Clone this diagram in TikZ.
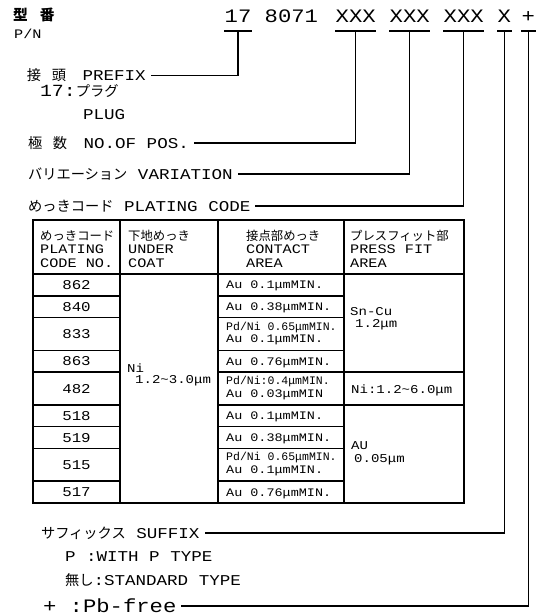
\documentclass[tikz,border=0pt]{standalone}
\usepackage{fontspec}
\setmainfont{Liberation Mono}[FakeStretch=1.17]
\newfontfamily\cadn{Liberation Mono}
\newfontfamily\jp{Noto Sans CJK JP}[Scale=0.95]
\usetikzlibrary{calc,positioning}
\newcommand{\szbig}{\fontsize{19}{19}\selectfont}
\newcommand{\szlbl}{\fontsize{15}{15}\selectfont}
\newcommand{\szhead}{\fontsize{13}{13.3}\selectfont}
\newcommand{\szcode}{\fontsize{13.5}{13.5}\selectfont}
\newcommand{\szcell}{\fontsize{11.5}{12.5}\selectfont}
\newcommand{\szpf}{\fontsize{12}{11.5}\selectfont}
\newcommand{\tld}{\textasciitilde}

\begin{document}
\begin{tikzpicture}[x=1pt,y=-1pt,
    code/.style={anchor=base west,inner xsep=0.5pt,inner ysep=0pt,text depth=0pt,outer ysep=8pt,font=\szbig},
    lbl/.style={anchor=west,inner sep=0pt,outer xsep=5pt,text height=10pt,text depth=0pt,font=\szlbl},
    head/.style={anchor=base west,inner sep=0pt,align=left,font=\szhead},
    celltxt/.style={anchor=base west,inner sep=0pt,align=left,font=\szcell},
    lead/.style={line width=1.1pt},
    cell/.style={line width=1.4pt}]
  \useasboundingbox (0,0) rectangle (535,615);

  % part number
  \node[anchor=west,inner sep=0pt,font=\fontsize{15.5}{15.5}\selectfont] (pn) at (13,15) {{\jp\bfseries 型}\hspace{12pt}{\jp\bfseries 番}};
  \node[anchor=west,inner sep=0pt,font=\fontsize{13}{13}\selectfont] (pnen) at (14,34) {P/N};
  \node[code] (c17) at (224,23) {17};
  \node[code] (c8071) at (264,23) {8071};
  \node[code] (cpos) at (335,23) {XXX};
  \node[code] (cvar) at (389,23) {XXX};
  \node[code] (cplt) at (443,23) {XXX};
  \node[code] (csfx) at (497,23) {X};
  \node[code] (cpb) at (521,23) {+};
  \foreach \n in {c17,cpos,cvar,cplt,csfx,cpb}
    \draw[lead] (\n.south west) -- (\n.south east);

  % labels
  \node[lbl] (prefix) at (22,75.5) {{\jp 接} {\jp 頭}\hspace{6pt} PREFIX};
  \node[lbl] (plug) at (35,92) {{\fontsize{17}{17}\selectfont 17:}{\jp プラグ}};
  \node[lbl] (plugen) at (78,114) {PLUG};
  \node[lbl] (pos) at (23,143) {{\jp 極} {\jp 数}\hspace{6pt} NO.OF POS.};
  \node[lbl] (var) at (23,174) {{\jp バリエーション} VARIATION};
  \node[lbl] (plt) at (23,206) {{\jp めっきコード} PLATING CODE};
  \node[lbl] (sfx) at (36,533) {{\jp サフィックス} SUFFIX};
  \node[lbl] (ptype) at (60,556) {P :WITH P TYPE};
  \node[lbl] (std) at (60,580) {{\jp 無し}:STANDARD TYPE};
  \node[lbl,font=\szbig,text height=12pt] (pb) at (38,606) {+ :Pb-free};

  \draw[lead] (c17.south) |- (prefix.east);
  \draw[lead] (cpos.south) |- (pos.east);
  \draw[lead] (cvar.south) |- (var.east);
  \draw[lead] (cplt.south) |- (plt.east);
  \draw[lead] (csfx.south) |- (sfx.east);
  \draw[lead] (cpb.south) |- (pb.east);

  % plating table
  \draw[cell] (33,220) rectangle (464,502.9);
  \draw[cell] (33,274) -- (464,274);
  \foreach \x in {120,218,344}
    \draw[cell] (\x,220) -- (\x,502.9);
  \node[head] (hcode) at (40,267) {{\jp めっきコード}\\PLATING\\CODE NO.};
  \node[head] (hunder) at (128,267) {{\jp 下地めっき}\\UNDER\\COAT};
  \node[head] (hcontact) at (246,267) {{\jp 接点部めっき}\\CONTACT\\AREA};
  \node[head] (hpress) at (350,267) {{\jp プレスフィット部}\\PRESS FIT\\AREA};

  \foreach \code/\ya/\yb/\tb/\txt in {
      862/274/295.8/288.9/{Au 0.1μmMIN.},
      840/295.8/317.6/310.7/{Au 0.38μmMIN.},
      833/317.6/350.3/342.5/{\cadn Pd/Ni 0.65μmMIN.\\Au 0.1μmMIN.},
      863/350.3/372.1/365.2/{Au 0.76μmMIN.},
      482/372.1/404.8/397/{\cadn Pd/Ni:0.4μmMIN.\\Au 0.03μmMIN},
      518/404.8/426.6/419.7/{Au 0.1μmMIN.},
      519/426.6/448.4/441.5/{Au 0.38μmMIN.},
      515/448.4/481.1/473.3/{\cadn Pd/Ni 0.65μmMIN.\\Au 0.1μmMIN.},
      517/481.1/502.9/496/{Au 0.76μmMIN.}}{
    \draw[cell] (33,\ya) rectangle (120,\yb);
    \draw[cell] (218,\ya) rectangle (344,\yb);
    \node[anchor=base,inner sep=0pt,font=\szcode] (code-\code) at (76.5,{(\ya+\yb)/2+4.7}) {\code};
    \node[celltxt] (ct-\code) at (226,\tb) {\txt};
  }

  \draw[cell] (344,274) rectangle (464,372.1);
  \draw[cell] (344,372.1) rectangle (464,404.8);
  \draw[cell] (344,404.8) rectangle (464,502.9);

  \node[anchor=base west,inner sep=0pt,align=left,font=\szpf] (under) at (127,383.5) {Ni\\\hspace*{8pt}1.2\tld3.0μm};
  \node[anchor=base west,inner sep=0pt,align=left,font=\szpf] (pfsn) at (350,327) {Sn-Cu\\\hspace*{5pt}1.2μm};
  \node[anchor=base west,inner sep=0pt,font=\szpf] (pfni) at (351,393.5) {Ni:1.2\tld6.0μm};
  \node[anchor=base west,inner sep=0pt,align=left,font=\fontsize{12}{13.5}\selectfont] (pfau) at (351,462.5) {AU\\\hspace*{3pt}0.05μm};
\end{tikzpicture}
\end{document}
